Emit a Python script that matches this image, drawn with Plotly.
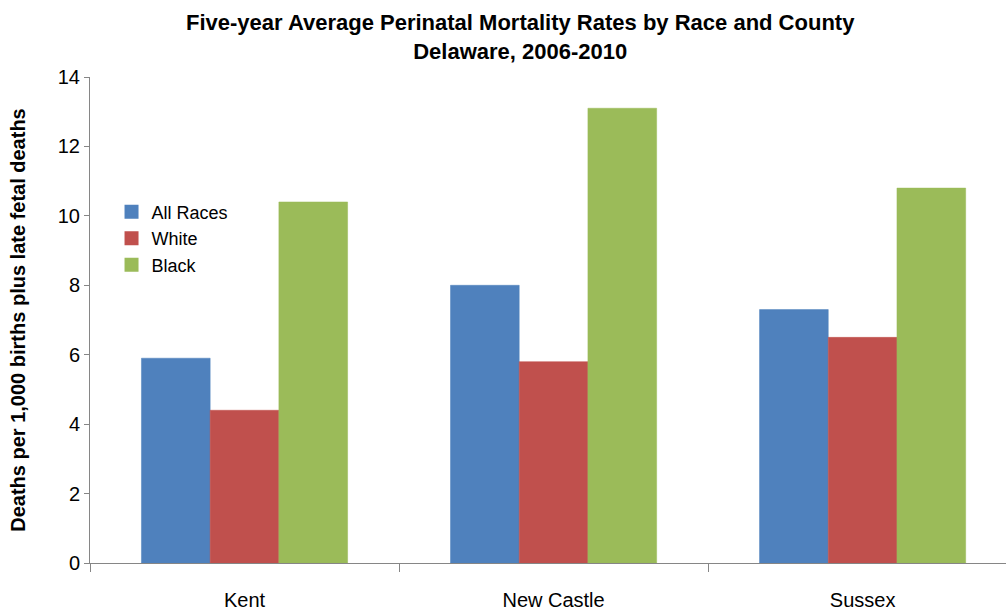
import plotly.graph_objects as go

# Perinatal mortality rates (per 1,000 births plus late fetal deaths), 2006-2010
counties = ["Kent", "New Castle", "Sussex"]
all_races = [5.9, 8.0, 7.3]
white = [4.4, 5.8, 6.5]
black = [10.4, 13.1, 10.8]

series = [
    ("All Races", all_races, "#4F81BD"),
    ("White", white, "#C0504D"),
    ("Black", black, "#9BBB59"),
]

font_family = "Liberation Sans, Arial, sans-serif"

fig = go.Figure()
for name, values, color in series:
    fig.add_trace(go.Bar(
        x=counties, y=values, name=name,
        marker=dict(color=color, line=dict(color=color, width=0.5)),
    ))

fig.update_layout(
    width=1006, height=611,
    margin=dict(l=90, r=0, t=77, b=46),
    paper_bgcolor="white", plot_bgcolor="white",
    barmode="group", bargap=0.333, bargroupgap=0,
    font=dict(family=font_family, size=20, color="#000000"),
    legend=dict(
        x=0.0235, y=0.76, xanchor="left", yanchor="top",
        bgcolor="rgba(0,0,0,0)",
        font=dict(family=font_family, size=18),
        tracegroupgap=0, itemsizing="constant",
    ),
    showlegend=True,
    annotations=[dict(
        text="<b>Five-year Average Perinatal Mortality Rates by Race and County<br>Delaware, 2006-2010</b>",
        xref="paper", yref="paper",
        x=(520 - 90) / 916, y=1 + 69 / 488,
        xanchor="center", yanchor="top",
        showarrow=False, align="center",
        font=dict(family=font_family, size=22, color="#000000"),
    )],
)

fig.update_xaxes(
    type="category",
    range=[-0.5, 2.464],
    showline=True, linecolor="#868686", linewidth=1,
    ticks="outside", tickson="boundaries", ticklen=8, tickcolor="#868686",
    ticklabelstandoff=19,
    showgrid=False, zeroline=False,
    tickfont=dict(family=font_family, size=20),
)

fig.update_yaxes(
    range=[0, 14], dtick=2,
    showline=True, linecolor="#868686", linewidth=1,
    ticks="outside", ticklen=5, tickcolor="#868686",
    showgrid=False, zeroline=False,
    tickfont=dict(family=font_family, size=20),
    title=dict(
        text="<b>Deaths per 1,000 births plus late fetal deaths</b>",
        font=dict(family=font_family, size=20),
        standoff=26,
    ),
    automargin=False,
)

fig.write_html("out.html")
